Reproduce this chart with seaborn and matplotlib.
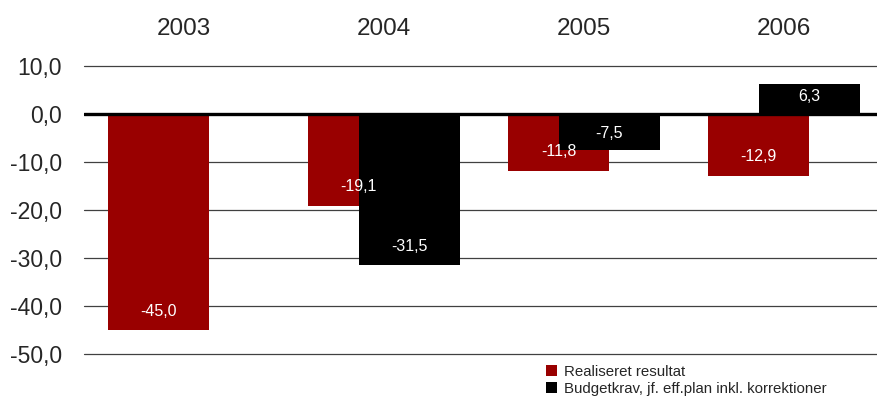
import numpy as np
import pandas as pd
import matplotlib
matplotlib.use("Agg")
import matplotlib.pyplot as plt
import seaborn as sns

years = ["2003", "2004", "2005", "2006"]
realiseret = [-45.0, -19.1, -11.8, -12.9]
budgetkrav = [np.nan, -31.5, -7.5, 6.3]
series_names = ["Realiseret resultat", "Budgetkrav, jf. eff.plan inkl. korrektioner"]
yticks = [10, 0, -10, -20, -30, -40, -50]

df = pd.DataFrame({
    "year": years * 2,
    "value": realiseret + budgetkrav,
    "series": [series_names[0]] * 4 + [series_names[1]] * 4,
})

sns.set_style("white")
FONT = ["Liberation Sans", "DejaVu Sans"]
plt.rcParams["font.family"] = FONT

W, H = 877, 401
fig = plt.figure(figsize=(W / 100, H / 100), dpi=100)
ax_left, ax_top, ax_bot = 84, 66, 354
ax = fig.add_axes([ax_left / W, 1 - ax_bot / H, (W - ax_left) / W, (ax_bot - ax_top) / H])

palette = {series_names[0]: "#990000", series_names[1]: "#000000"}
sns.barplot(data=df, x="year", y="value", hue="series", palette=palette,
            width=0.51, gap=-0.98, dodge=True, ax=ax, edgecolor="none",
            legend=True, saturation=1)

ax.set_ylim(-50, 10)
ax.set_xlim(-0.5, -0.5 + (W - ax_left) / 200)
ax.set_yticks(yticks)
ax.set_yticklabels([f"{t:.1f}".replace(".", ",") for t in yticks], fontsize=16.5)
ax.set_xlabel("")
ax.set_ylabel("")
ax.xaxis.tick_top()
ax.tick_params(axis="x", length=0, pad=19, labelsize=17.5)
ax.tick_params(axis="y", length=0, pad=16)
for s in ax.spines.values():
    s.set_visible(False)
ax.set_axisbelow(True)
ax.yaxis.grid(True, color="#404040", linewidth=0.9)
for gl in ax.get_ygridlines():
    gl.set_clip_on(False)
ax.axhline(0, color="black", linewidth=2.4, zorder=5)

# data labels inside bar ends
px_per_unit = (ax_bot - ax_top) / 60.0
for container in ax.containers:
    for rect in container:
        h = rect.get_height()
        if np.isnan(h) or h == 0:
            continue
        x = rect.get_x() + rect.get_width() / 2
        barpx = abs(h) * px_per_unit
        off = min(19, barpx / 2 - 2)
        sign = -1 if h > 0 else 1
        ax.annotate(f"{h:.1f}".replace(".", ","), xy=(x, h), xytext=(0, sign * off),
                    textcoords="offset pixels", ha="center", va="center",
                    color="white", fontsize=11.5, zorder=6)

handles, labels = ax.get_legend_handles_labels()
ax.legend(handles, labels, loc="upper left", bbox_to_anchor=(546 / W, 1 - 365 / H),
          bbox_transform=fig.transFigure, frameon=False, fontsize=10.8,
          handlelength=0.75, handleheight=0.75, handletextpad=0.45,
          labelspacing=0.2, borderpad=0, borderaxespad=0)

fig.savefig("out.png", dpi=100)
